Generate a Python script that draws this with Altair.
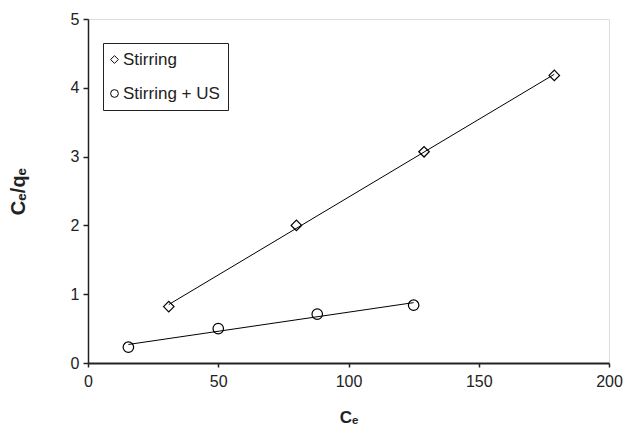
import altair as alt
import pandas as pd

series_names = ["Stirring", "Stirring + US"]
stirring_ce = [31, 80, 129, 179]
stirring_ratio = [0.82, 2.0, 3.07, 4.18]
us_ce = [15.5, 50, 88, 125]
us_ratio = [0.23, 0.50, 0.71, 0.84]
x_ticks = [0, 50, 100, 150, 200]
y_ticks = [0, 1, 2, 3, 4, 5]

df = pd.DataFrame({
    "Ce": stirring_ce + us_ce,
    "ratio": stirring_ratio + us_ratio,
    "series": [series_names[0]] * len(stirring_ce) + [series_names[1]] * len(us_ce),
})

FONT = "Liberation Sans"

x_enc = alt.X(
    "Ce:Q",
    scale=alt.Scale(domain=[0, 200], nice=False),
    axis=alt.Axis(
        values=x_ticks, title="Cₑ", grid=False, labelFlush=False,
        domainColor="#222222", domainWidth=2, tickColor="#222222", tickWidth=1.5, tickSize=4,
        labelFont=FONT, labelFontSize=16, labelColor="#222222", labelPadding=6,
        titleFont=FONT, titleFontSize=17, titleFontWeight="bold", titleColor="#222222",
        titleY=54, titleBaseline="middle",
    ),
)
y_enc = alt.Y(
    "ratio:Q",
    scale=alt.Scale(domain=[0, 5], nice=False),
    axis=alt.Axis(
        values=y_ticks, title="Cₑ/qₑ", grid=False, labelFlush=False,
        domainColor="#222222", domainWidth=1.5, tickColor="#222222", tickWidth=1.5, tickSize=5,
        labelFont=FONT, labelFontSize=16, labelColor="#222222", labelPadding=4,
        titleFont=FONT, titleFontSize=20, titleFontWeight="bold", titleColor="#222222",
        titleX=-70, titleY=172, titleAngle=270, titleBaseline="middle",
    ),
)

base = alt.Chart(df).encode(x=x_enc, y=y_enc)

lines = base.transform_regression(
    "Ce", "ratio", groupby=["series"]
).mark_line(color="black", strokeWidth=1).encode(detail="series:N")

points = base.mark_point(
    filled=False, color="black", strokeWidth=1.2, size=110, opacity=1
).encode(
    shape=alt.Shape(
        "series:N",
        scale=alt.Scale(domain=series_names, range=["diamond", "circle"]),
        legend=alt.Legend(
            title=None, orient="none", legendX=15, legendY=24,
            strokeColor="#222222", fillColor="white", padding=8,
            labelFont=FONT, labelFontSize=17, labelColor="#222222", labelOffset=0,
            symbolSize=60, symbolStrokeColor="black", symbolOpacity=1,
            symbolStrokeWidth=1, symbolOffset=-5, rowPadding=16,
        ),
    )
)

chart = alt.layer(lines, points).properties(
    width=521, height=344,
    autosize=alt.AutoSizeParams(type="none"),
    padding={"left": 88, "top": 19, "right": 15, "bottom": 64},
).configure_view(
    stroke="#444444", strokeWidth=1.5
).configure(background="white")

chart.save("out.html", embed_options={"renderer": "svg", "actions": False})
